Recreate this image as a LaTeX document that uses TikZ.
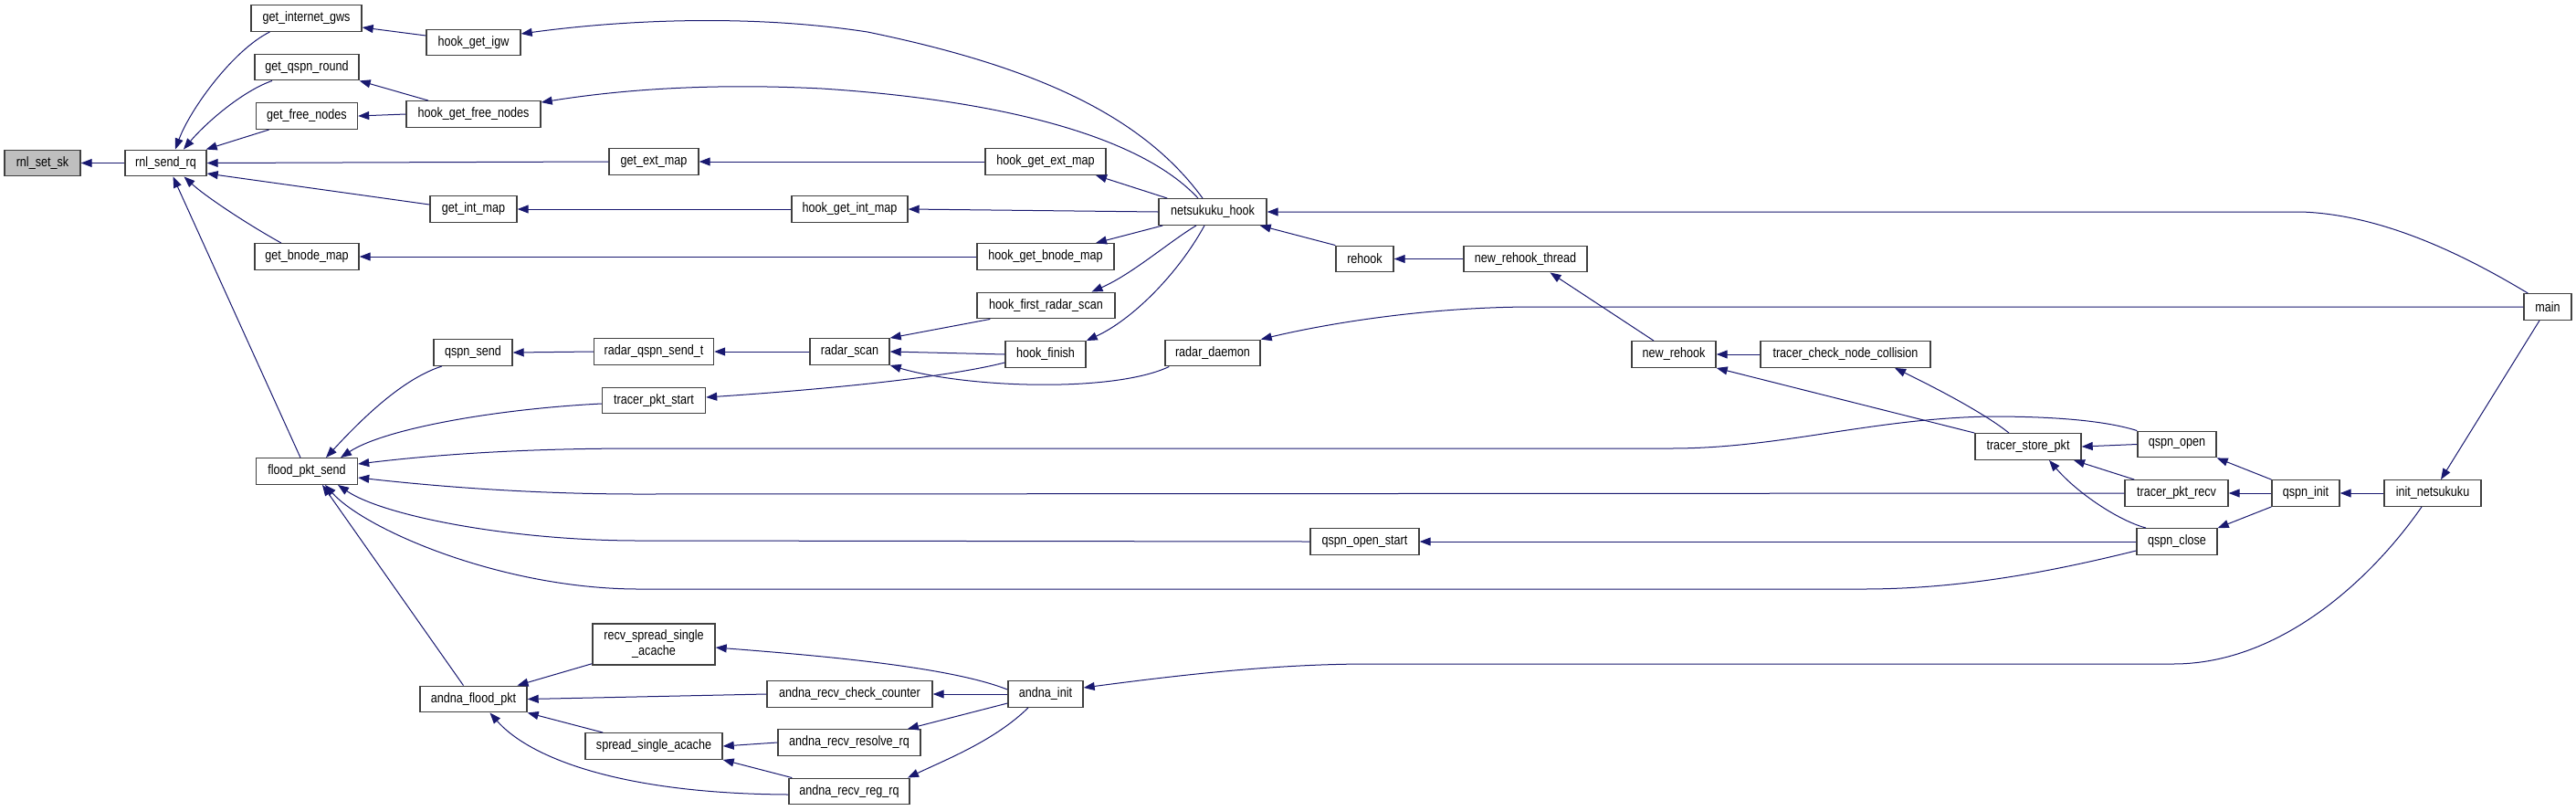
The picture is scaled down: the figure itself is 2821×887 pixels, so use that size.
\documentclass[tikz,border=0pt]{standalone}
\usepackage{fontspec}
\setmainfont{Liberation Sans}[FakeStretch=0.84]
\usetikzlibrary{arrows.meta}
\definecolor{edgeblue}{RGB}{25,25,112}
\definecolor{boxline}{RGB}{64,64,64}
\begin{document}
\begin{tikzpicture}[x=1pt,y=-1pt,
    fn/.style={draw=boxline, line width=1.4pt, fill=white, minimum height=28.5pt, inner sep=0pt, font=\fontsize{15}{17}\selectfont},
    ln/.style={draw=edgeblue, line width=1pt, {Triangle[length=12pt,width=9pt]}-}]
    \path[fill=white] (0,0) rectangle (2821,887);

    % Column 1 and 2
    \node[fn, fill=black!25, minimum width=83] (setsk) at (46.5,178.5) {rnl\_set\_sk};
    \node[fn, minimum width=89] (sendrq) at (181.5,178.5) {rnl\_send\_rq};

    % Column 3
    \node[fn, minimum width=121] (inetgws) at (335.5,20) {get\_internet\_gws};
    \node[fn, minimum width=114] (qspnround) at (336,73.5) {get\_qspn\_round};
    \node[fn, minimum width=111] (freenodes) at (336,127) {get\_free\_nodes};
    \node[fn, minimum width=114] (bnodemap) at (336,281) {get\_bnode\_map};
    \node[fn, minimum width=111] (floodsend) at (336,516) {flood\_pkt\_send};

    % Column 4
    \node[fn, minimum width=103] (hookigw) at (518.5,46.5) {hook\_get\_igw};
    \node[fn, minimum width=147] (hookfree) at (518.5,125) {hook\_get\_free\_nodes};
    \node[fn, minimum width=95] (intmap) at (518.5,229) {get\_int\_map};
    \node[fn, minimum width=86] (qspnsend) at (518,386) {qspn\_send};
    \node[fn, minimum width=117] (andnaflood) at (518.5,765.5) {andna\_flood\_pkt};

    % Column 5
    \node[fn, minimum width=98] (extmap) at (716,177) {get\_ext\_map};
    \node[fn, minimum width=131] (radarsendt) at (716,385) {radar\_qspn\_send\_t};
    \node[fn, minimum width=113] (pktstart) at (716,438.5) {tracer\_pkt\_start};
    \node[fn, minimum width=134, minimum height=45, align=center] (recvspread) at (716,705.5) {recv\_spread\_single\\\_acache};
    \node[fn, minimum width=150] (spreadsingle) at (716,817) {spread\_single\_acache};

    % Column 6
    \node[fn, minimum width=127] (hookintmap) at (930.5,229) {hook\_get\_int\_map};
    \node[fn, minimum width=87] (radarscan) at (930.5,385) {radar\_scan};
    \node[fn, minimum width=181] (checkcounter) at (930.5,760) {andna\_recv\_check\_counter};
    \node[fn, minimum width=156] (resolverq) at (930,813) {andna\_recv\_resolve\_rq};
    \node[fn, minimum width=132] (regrq) at (930,866.5) {andna\_recv\_reg\_rq};

    % Column 7
    \node[fn, minimum width=132] (hookextmap) at (1145,177) {hook\_get\_ext\_map};
    \node[fn, minimum width=150] (hookbnode) at (1145,281) {hook\_get\_bnode\_map};
    \node[fn, minimum width=151] (firstscan) at (1145.5,334.5) {hook\_first\_radar\_scan};
    \node[fn, minimum width=88] (hookfinish) at (1145,388) {hook\_finish};
    \node[fn, minimum width=82] (andnainit) at (1145,760) {andna\_init};

    % Columns 8 to 12
    \node[fn, minimum width=118] (nethook) at (1328,232) {netsukuku\_hook};
    \node[fn, minimum width=104] (radardaemon) at (1328,386.5) {radar\_daemon};
    \node[fn, minimum width=63] (rehook) at (1494.5,283.5) {rehook};
    \node[fn, minimum width=119] (openstart) at (1494.5,593) {qspn\_open\_start};
    \node[fn, minimum width=135] (rehookthread) at (1670.5,283.5) {new\_rehook\_thread};
    \node[fn, minimum width=92] (newrehook) at (1833,388) {new\_rehook};
    \node[fn, minimum width=186] (nodecollision) at (2021,388) {tracer\_check\_node\_collision};

    % Columns 13 to 17
    \node[fn, minimum width=116] (storepkt) at (2221,489) {tracer\_store\_pkt};
    \node[fn, minimum width=86] (qspnopen) at (2384,486.5) {qspn\_open};
    \node[fn, minimum width=113] (pktrecv) at (2383.5,540) {tracer\_pkt\_recv};
    \node[fn, minimum width=88] (qspnclose) at (2384,593) {qspn\_close};
    \node[fn, minimum width=74] (qspninit) at (2525,540) {qspn\_init};
    \node[fn, minimum width=106] (initnet) at (2664,540) {init\_netsukuku};
    \node[fn, minimum width=52] (main) at (2790,336) {main};

    % Calls into rnl_send_rq
    \draw[ln] (setsk.east) -- (sendrq.west);
    \draw[ln] ([xshift=10.5]sendrq.north) .. controls (208,120) and (255,55) .. ([xshift=-40]inetgws.south);
    \draw[ln] ([xshift=19.5]sendrq.north) .. controls (225,135) and (265,100) .. ([xshift=-38]qspnround.south);
    \draw[ln] ([xshift=-1]sendrq.north east) -- ([xshift=15]freenodes.south west);
    \draw[ln] (sendrq.east) -- (extmap.west);
    \draw[ln] ([yshift=-11.5]sendrq.east) -- ([yshift=5]intmap.west);
    \draw[ln] ([xshift=20]sendrq.south) .. controls (225,215) and (270,245) .. ([xshift=-28]bnodemap.north);
    \draw[ln] ([xshift=8]sendrq.south) -- ([xshift=-7]floodsend.north);

    % Hook functions
    \draw[ln] ([yshift=-10]inetgws.east) -- ([yshift=7.5]hookigw.west);
    \draw[ln] (qspnround.south east) -- ([xshift=-49.5]hookfree.north);
    \draw[ln] (freenodes.east) -- (hookfree.west);
    \draw[ln] (extmap.east) -- (hookextmap.west);
    \draw[ln] (intmap.east) -- (hookintmap.west);
    \draw[ln] (bnodemap.east) -- (hookbnode.west);

    % Calls from netsukuku_hook
    \draw[ln] ([yshift=9.5]hookigw.east) .. controls (680,22) and (820,15) .. (950,35) .. controls (1130,72) and (1250,125) .. ([xshift=-11]nethook.north);
    \draw[ln] ([yshift=-2]hookfree.north east) .. controls (700,95) and (800,92) .. (900,97) .. controls (1100,110) and (1250,150) .. ([xshift=-16]nethook.north);
    \draw[ln] ([xshift=55]hookextmap.south) -- ([xshift=10]nethook.north west);
    \draw[ln] (hookintmap.east) -- (nethook.west);
    \draw[ln] ([xshift=55]hookbnode.north) -- ([xshift=5]nethook.south west);
    \draw[ln] ([xshift=50]firstscan.north) .. controls (1240,300) and (1280,265) .. ([xshift=-18]nethook.south);
    \draw[ln] (hookfinish.north east) .. controls (1240,350) and (1290,300) .. ([xshift=-9]nethook.south);

    % Radar
    \draw[ln] (qspnsend.east) -- (radarsendt.west);
    \draw[ln] (radarsendt.east) -- (radarscan.west);
    \draw[ln] (radarscan.north east) -- ([xshift=15]firstscan.south west);
    \draw[ln] (radarscan.east) -- (hookfinish.west);
    \draw[ln] (radarscan.south east) .. controls (1060,425) and (1220,430) .. ([xshift=5]radardaemon.south west);
    \draw[ln] ([yshift=3.5]pktstart.east) .. controls (880,428) and (1030,415) .. ([yshift=-9]hookfinish.west);

    % Calls into flood_pkt_send
    \draw[ln] ([xshift=21]floodsend.north) .. controls (395,460) and (440,415) .. ([xshift=-34]qspnsend.south);
    \draw[ln] ([xshift=37]floodsend.north) .. controls (420,470) and (540,448) .. ([yshift=-3.5]pktstart.west);
    \draw[ln] ([yshift=8]floodsend.east) .. controls (500,495) and (600,491) .. (700,491) -- (1830,491) .. controls (1950,491) and (2050,458) .. (2180,456) .. controls (2260,456) and (2310,462) .. (qspnopen.north west);
    \draw[ln] ([yshift=-7]floodsend.east) .. controls (500,535) and (600,541) .. (700,541) -- (pktrecv.west);
    \draw[ln] ([xshift=34]floodsend.south) .. controls (420,565) and (560,592) .. (700,592) -- (openstart.west);
    \draw[ln] ([xshift=20]floodsend.south) .. controls (400,580) and (550,645) .. (700,645) -- (2040,645) .. controls (2150,645) and (2250,625) .. ([yshift=-10]qspnclose.west);
    \draw[ln] ([xshift=17]floodsend.south) -- ([xshift=-11]andnaflood.north);
    \draw[ln] (openstart.east) -- (qspnclose.west);

    % Andna
    \draw[ln] ([xshift=48]andnaflood.north) -- ([yshift=2]recvspread.south west);
    \draw[ln] (andnaflood.east) -- (checkcounter.west);
    \draw[ln] (andnaflood.south east) -- ([xshift=20]spreadsingle.north west);
    \draw[ln] ([xshift=18]andnaflood.south) .. controls (580,830) and (680,869) .. ([yshift=-3.5]regrq.west);
    \draw[ln] ([yshift=-3.5]recvspread.east) .. controls (900,718) and (1040,730) .. ([yshift=5]andnainit.west);
    \draw[ln] (checkcounter.east) -- (andnainit.west);
    \draw[ln] ([xshift=64]resolverq.north) -- ([yshift=-10]andnainit.west);
    \draw[ln] ([xshift=64]regrq.north) .. controls (1040,830) and (1090,810) .. ([xshift=-19]andnainit.south);
    \draw[ln] (spreadsingle.east) -- (resolverq.west);
    \draw[ln] (spreadsingle.south east) -- ([xshift=4]regrq.north west);
    \draw[ln] ([yshift=7]andnainit.east) .. controls (1300,738) and (1400,727) .. (1500,727) -- (2380,727) .. controls (2500,727) and (2600,630) .. ([xshift=-12]initnet.south);

    % Rehook chain
    \draw[ln] ([xshift=-8]nethook.south east) -- (rehook.north west);
    \draw[ln] (rehook.east) -- (rehookthread.west);
    \draw[ln] ([xshift=27]rehookthread.south) -- ([xshift=-22]newrehook.north);
    \draw[ln] (newrehook.east) -- (nodecollision.west);
    \draw[ln] (newrehook.south east) -- (storepkt.north west);
    \draw[ln] ([xshift=54]nodecollision.south) .. controls (2110,420) and (2170,450) .. ([xshift=-21]storepkt.north);

    % Tracer and qspn
    \draw[ln] (storepkt.east) -- (qspnopen.west);
    \draw[ln] ([xshift=50]storepkt.south) -- ([xshift=11]pktrecv.north west);
    \draw[ln] ([xshift=23]storepkt.south) .. controls (2275,540) and (2320,570) .. ([xshift=-34]qspnclose.north);
    \draw[ln] (qspnopen.south east) -- (qspninit.north west);
    \draw[ln] (pktrecv.east) -- (qspninit.west);
    \draw[ln] (qspnclose.north east) -- (qspninit.south west);
    \draw[ln] (qspninit.east) -- (initnet.west);

    % Calls from main
    \draw[ln] (nethook.east) -- (2520,232) .. controls (2610,235) and (2700,280) .. ([xshift=5]main.north west);
    \draw[ln] (radardaemon.north east) .. controls (1450,355) and (1560,336) .. (1680,336) -- (main.west);
    \draw[ln] ([xshift=9]initnet.north) -- ([xshift=-9]main.south);
\end{tikzpicture}
\end{document}
